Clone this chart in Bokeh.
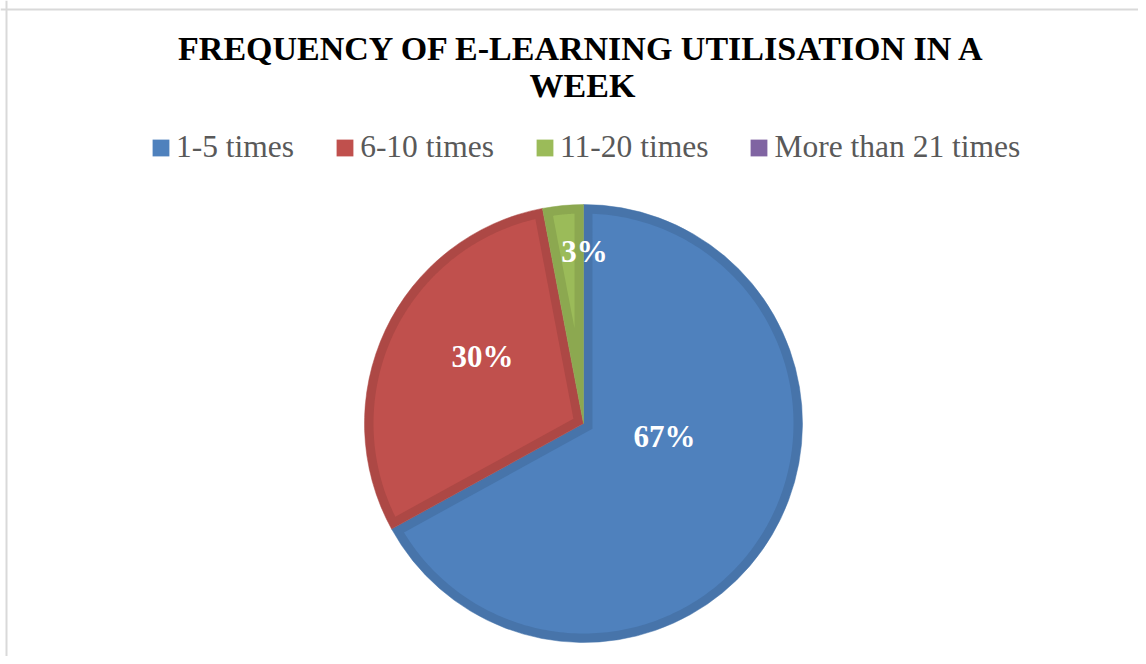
import numpy as np
from bokeh.plotting import figure
from bokeh.models import Range1d, Legend, LegendItem, Label, Span, ColumnDataSource
from bokeh.core.properties import value
from bokeh.embed import file_html
from bokeh.resources import INLINE

# ---- data ----
categories = ["1-5 times", "6-10 times", "11-20 times", "More than 21 times"]
percentages = [67, 30, 3, 0]
fill_colors = ["#4F81BD", "#C0504D", "#9BBB59", "#8064A2"]
edge_colors = ["#4774AA", "#AD4845", "#8CA850", "#735A92"]
title_lines = ["FREQUENCY OF E-LEARNING UTILISATION IN A", "WEEK"]

# ---- layout ----
W, H = 1138, 656
CX, CY, R = 583, 233, 219      # pie centre / radius (px units)
EDGE = 9                       # width of darker slice border
label_offsets = [(81, -13), (-101, 67), (1, 172)]  # label baselines relative to centre
SERIF = "Liberation Serif"

p = figure(width=W, height=H, x_range=Range1d(0, W), y_range=Range1d(0, H),
           x_axis_type=None, y_axis_type=None, toolbar_location=None,
           output_backend="svg", min_border=0, outline_line_color=None,
           background_fill_color="white", border_fill_color="white")
p.xgrid.visible = False
p.ygrid.visible = False

# chart-area border (left and top visible in reference)
p.add_layout(Span(location=6, dimension="height", line_color="#D9D9D9", line_width=2))
p.add_layout(Span(location=H - 9, dimension="width", line_color="#D9D9D9", line_width=2))

# ---- slices ----
vals = np.array(percentages, dtype=float)
fr = vals / vals.sum()
ends = np.pi / 2 - 2 * np.pi * np.cumsum(fr)          # clockwise from top
starts = np.concatenate([[np.pi / 2], ends[:-1]])
keep = [i for i in range(len(vals)) if vals[i] > 0]

src = ColumnDataSource(dict(
    lo=[ends[i] for i in keep], hi=[starts[i] for i in keep],
    edge=[edge_colors[i] for i in keep],
))
p.wedge(x=CX, y=CY, radius=R, start_angle="lo", end_angle="hi", direction="anticlock",
        fill_color="edge", line_color="edge", line_width=0.5, source=src)

xs, ys = [], []
for i in keep:
    lo, hi = ends[i], starts[i]
    th = hi - lo
    mid = (lo + hi) / 2
    apex_d = EDGE / np.sin(th / 2)
    delta = np.arcsin(EDGE / (R - EDGE))
    ang = np.linspace(lo + delta, hi - delta, 240)
    px = [CX + apex_d * np.cos(mid)] + list(CX + (R - EDGE) * np.cos(ang))
    py = [CY + apex_d * np.sin(mid)] + list(CY + (R - EDGE) * np.sin(ang))
    xs.append(px)
    ys.append(py)
p.patches(xs, ys, fill_color=[fill_colors[i] for i in keep], line_color=None)

# ---- data labels ----
lab_x, lab_y, lab_t = [], [], []
for k, i in enumerate(keep):
    dx, dy = label_offsets[k]
    lab_x.append(CX + dx)
    lab_y.append(CY + dy)
    lab_t.append(f"{percentages[i]}%")
p.text(x=lab_x, y=lab_y, text=lab_t, text_align="center", text_baseline="alphabetic",
       text_font=value(SERIF), text_font_style="bold", text_font_size="31px",
       text_color="white")

# ---- title ----
title_y = [608.5, 571.5]
for line, ty in zip(title_lines, title_y):
    p.add_layout(Label(x=582, y=ty, text=line, text_align="center",
                       text_baseline="alphabetic", text_font=SERIF,
                       text_font_style="bold", text_font_size="34px",
                       text_color="black"))

# ---- legend (swatches from a zero-radius wedge renderer holding all categories) ----
leg_src = ColumnDataSource(dict(cat=categories, color=fill_colors,
                                lo=list(ends), hi=list(starts)))
leg_r = p.wedge(x=CX, y=CY, radius=0, start_angle="lo", end_angle="hi",
                direction="anticlock", fill_color="color", line_color=None,
                source=leg_src)
items = [LegendItem(label=c, renderers=[leg_r], index=i) for i, c in enumerate(categories)]
legend = Legend(items=items, orientation="horizontal", location=(150, 491),
                glyph_width=21, glyph_height=21, label_standoff=5, spacing=40,
                label_text_font=SERIF, label_text_font_size="31.5px",
                label_text_color="#595959", border_line_color=None,
                background_fill_alpha=0, padding=0, margin=0)
p.add_layout(legend)

open("out.html", "w").write(file_html(p, INLINE))
